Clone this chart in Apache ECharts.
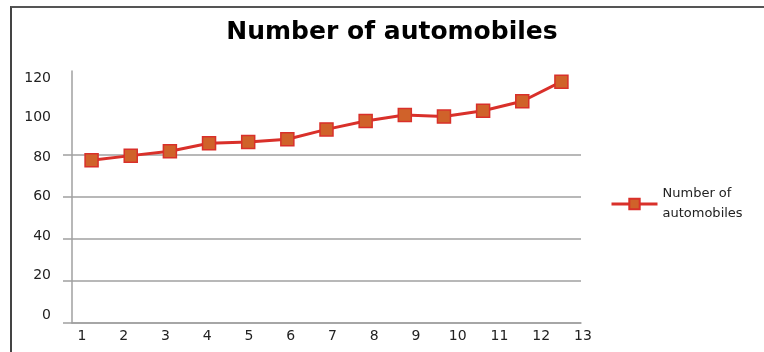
<!DOCTYPE html>
<html lang="en">
<head>
    <meta charset="UTF-8">
    <title>Number of automobiles</title>
    <script src="https://cdn.jsdelivr.net/npm/echarts@6/dist/echarts.min.js"></script>
    <style>
        html, body { margin: 0; padding: 0; background: #fff; }
        #frame { position: absolute; left: 10px; top: 6px; width: 754px; height: 346px;
                 border-left: 2px solid #444; border-top: 2px solid #555; box-sizing: border-box; }
        #main { position: absolute; left: 0; top: 0; width: 764px; height: 352px; }
    </style>
</head>
<body>
<div id="frame"></div>
<div id="main"></div>
<script type="text/javascript">
    // data
    const categories = ['1', '2', '3', '4', '5', '6', '7', '8', '9', '10', '11', '12', '13'];
    const automobiles = [77.5, 79.7, 81.8, 85.6, 86.2, 87.5, 92.2, 96.2, 99, 98.3, 101.1, 105.6, 114.9];
    const yTicks = [0, 20, 40, 60, 80, 100, 120];
    const gridTicks = [0, 20, 40, 60, 80];   // lines at 100 and 120 are missing in the original
    const seriesName = 'Number of\nautomobiles';

    const font = 'DejaVu Sans';
    const gray = '#a0a0a0';

    function init() {
        let myChart = echarts.init(document.getElementById('main'));
        const option = {
            animation: false,
            title: {
                text: 'Number of automobiles',
                left: 387,
                textAlign: 'center',
                top: 15,
                textStyle: { fontFamily: font, fontSize: 25, fontWeight: 'bold', color: '#000' }
            },
            legend: {
                data: [seriesName],
                left: 610,
                top: 184,
                padding: 0,
                itemWidth: 46,
                itemHeight: 13,
                lineStyle: { width: 3 },
                textStyle: { fontFamily: font, fontSize: 13, color: '#222', lineHeight: 20 }
            },
            grid: [
                { left: 72, right: 183, top: 71, bottom: 29 },
                { left: 82, right: 181, top: 78, bottom: 37 }
            ],
            xAxis: [
                {
                    type: 'category', gridIndex: 0, data: categories, boundaryGap: true,
                    axisLine: { lineStyle: { color: gray, width: 1.5 } },
                    axisTick: { show: false },
                    axisLabel: { show: false }
                },
                {
                    type: 'value', gridIndex: 1, min: 1, max: 13, interval: 1,
                    axisLine: { show: false }, axisTick: { show: false }, splitLine: { show: false },
                    axisLabel: { margin: 14, fontFamily: font, fontSize: 14, color: '#222' }
                }
            ],
            yAxis: [
                {
                    type: 'value', gridIndex: 0, min: 0, max: 120, interval: 20,
                    axisLine: { show: true, lineStyle: { color: gray, width: 1.5 } },
                    axisTick: { show: true, length: 9, customValues: gridTicks, lineStyle: { color: gray, width: 1.5 } },
                    axisLabel: { show: false },
                    splitLine: { show: true, lineStyle: { color: [gray, gray, gray, gray, gray, 'rgba(0,0,0,0)', 'rgba(0,0,0,0)'], width: 1.5 } }
                },
                {
                    type: 'value', gridIndex: 1, min: 0, max: 120, interval: 20,
                    axisLine: { show: false }, axisTick: { show: false }, splitLine: { show: false },
                    axisLabel: { margin: 31, fontFamily: font, fontSize: 14, color: '#222',
                                 formatter: v => yTicks.includes(v) ? String(v) : '' }
                }
            ],
            series: [{
                name: seriesName,
                type: 'line',
                xAxisIndex: 0,
                yAxisIndex: 0,
                data: automobiles,
                symbol: 'rect',
                symbolSize: 13,
                lineStyle: { color: '#d9302a', width: 3 },
                itemStyle: { color: '#d0622a', borderColor: '#d9302a', borderWidth: 1.5 }
            }]
        };
        myChart.setOption(option);
    }
    init();
</script>
</body>
</html>
